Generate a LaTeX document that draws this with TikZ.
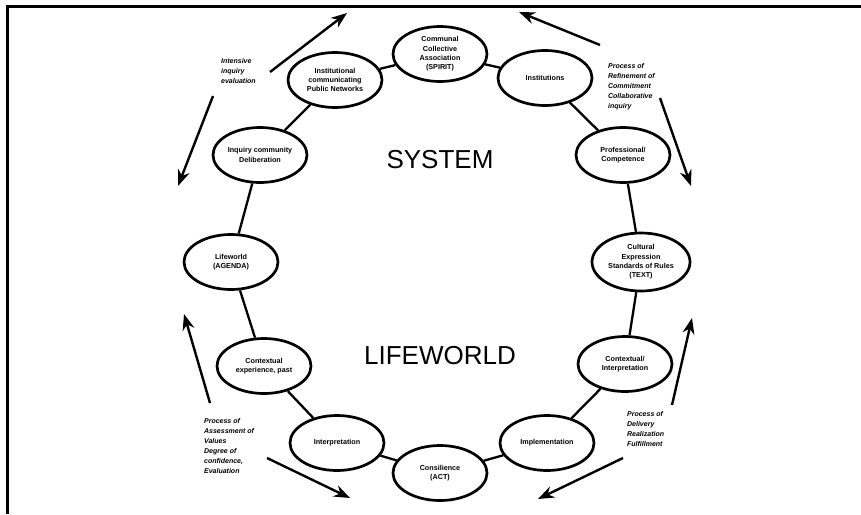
\documentclass[tikz,border=0pt]{standalone}
\usepackage{fontspec}
\setmainfont{Liberation Sans}
\usepackage{tikz}
\usetikzlibrary{shapes.geometric, arrows.meta, positioning}

\begin{document}
\begin{tikzpicture}[x=1pt, y=-1pt, >={Stealth[length=16pt, width=12pt]}, line width=2.3pt,
    phase/.style={draw, ellipse, minimum width=94pt, minimum height=55pt, inner sep=0pt, align=center, line width=2.7pt, font=\fontsize{7.2}{9.3}\selectfont\bfseries},
    process/.style={align=left, inner sep=0pt, anchor=north west, font=\fontsize{7}{10}\selectfont\bfseries\itshape},
    realm/.style={font=\fontsize{26}{30}\selectfont}]

\useasboundingbox (0,0) rectangle (861,514);
\draw[line width=3pt] (861,6) -- (7,6) -- (7,514);

\node[phase] (spirit) at (440,54) {Communal\\Collective\\Association\\(SPIRIT)};
\node[phase] (inst) at (545,78) {Institutions};
\node[phase] (compet) at (623,155) {Professional/\\Competence};
\node[phase, minimum width=98pt, minimum height=58pt] (text) at (641,262) {Cultural\\Expression\\Standards of Rules\\(TEXT)};
\node[phase] (context) at (625,364) {Contextual/\\Interpretation};
\node[phase] (implem) at (547,443) {Implementation};
\node[phase] (act) at (440,473) {Consilience\\(ACT)};
\node[phase] (interp) at (337,443) {Interpretation};
\node[phase] (exper) at (264,366) {Contextual\\experience, past};
\node[phase] (agenda) at (231,262) {Lifeworld\\(AGENDA)};
\node[phase] (delib) at (260,155) {Inquiry community\\Deliberation};
\node[phase] (network) at (335,80) {Institutional\\communicating\\Public Networks};

\node[realm] (system) at (440,160) {SYSTEM};
\node[realm] (lifeworld) at (440,356) {LIFEWORLD};

\node[process] (inquiry) at (220,57) {Intensive\\inquiry\\evaluation};
\node[process] (refine) at (607,62) {Process of\\Refinement of\\Commitment\\Collaborative\\inquiry};
\node[process] (assess) at (203,417) {Process of\\Assessment of\\Values\\Degree of\\confidence,\\Evaluation};
\node[process] (deliver) at (626,410) {Process of\\Delivery\\Realization\\Fulfillment};

% ring
\draw (spirit) -- (inst);
\draw (inst) -- (compet);
\draw (compet) -- (text);
\draw (text) -- (context);
\draw (context) -- (implem);
\draw (implem) -- (act);
\draw (act) -- (interp);
\draw (interp) -- (exper);
\draw (exper) -- (agenda);
\draw (agenda) -- (delib);
\draw (delib) -- (network);
\draw (network) -- (spirit);

% cycle arrows
\coordinate (tlA) at (270,72);  \coordinate (tlB) at (347,13);
\coordinate (trA) at (600,45);  \coordinate (trB) at (519,12);
\coordinate (rA) at (660,98);   \coordinate (rB) at (691,186);
\coordinate (rlA) at (672,405); \coordinate (rlB) at (692,318);
\coordinate (brA) at (623,458); \coordinate (brB) at (538,499);
\coordinate (blA) at (267,458); \coordinate (blB) at (350,498);
\coordinate (llA) at (210,403); \coordinate (llB) at (184,314);
\coordinate (luA) at (213,96);  \coordinate (luB) at (178,186);

\draw[->, line width=2.4pt] (tlA) -- (tlB);
\draw[->, line width=2.4pt] (trA) -- (trB);
\draw[->, line width=2.4pt] (rA) -- (rB);
\draw[->, line width=2.4pt] (rlA) -- (rlB);
\draw[->, line width=2.4pt] (brA) -- (brB);
\draw[->, line width=2.4pt] (blA) -- (blB);
\draw[->, line width=2.4pt] (llA) -- (llB);
\draw[->, line width=2.4pt] (luA) -- (luB);
\end{tikzpicture}
\end{document}
